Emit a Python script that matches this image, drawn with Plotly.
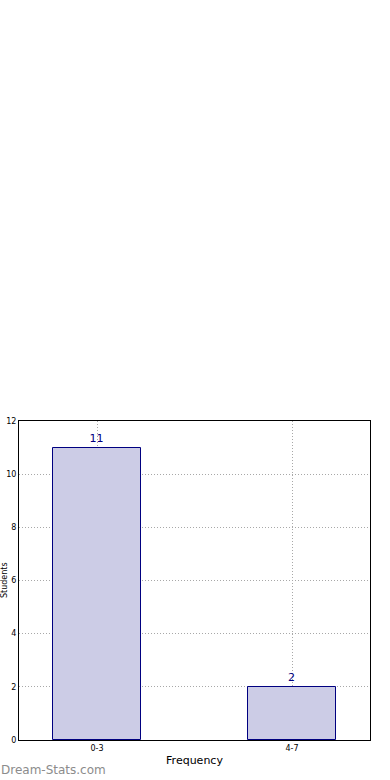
import plotly.graph_objects as go

categories = ["0-3", "4-7"]
values = [11, 2]
y_ticks = [0, 2, 4, 6, 8, 10, 12]

fig = go.Figure()
fig.add_trace(go.Bar(
    x=categories, y=values, width=0.45,
    marker=dict(color="#cccce6", line=dict(color="#000080", width=1)),
    text=[str(v) for v in values], textposition="outside",
    textfont=dict(color="#000080", size=11, family="DejaVu Sans"),
    cliponaxis=False,
))
fig.update_layout(
    width=390, height=780,
    margin=dict(l=19, r=20, t=421, b=40),
    plot_bgcolor="white", paper_bgcolor="white",
    showlegend=False,
    font=dict(family="DejaVu Sans", color="black"),
    bargap=0,
)
fig.update_xaxes(
    range=[-0.4, 1.4], showline=True, linecolor="black", linewidth=1, mirror=True,
    showgrid=True, gridcolor="#a8a8a8", griddash="1px,2px", gridwidth=1,
    tickfont=dict(size=8), ticks="", zeroline=False, automargin=False,
    title=dict(text="Frequency", font=dict(size=11), standoff=4),
)
fig.update_yaxes(
    range=[0, 12], tickvals=y_ticks, showline=True, linecolor="black", linewidth=1, mirror=True,
    showgrid=True, gridcolor="#a8a8a8", griddash="1px,2px", gridwidth=1,
    tickfont=dict(size=8), ticks="", zeroline=False, automargin=False,
)
fig.add_annotation(
    text="Students", textangle=-90, xref="paper", yref="paper",
    x=0, y=0.5, xanchor="right", yanchor="middle", xshift=-9,
    showarrow=False, font=dict(size=8), borderpad=0,
)
fig.add_annotation(
    text="Dream-Stats.com", xref="paper", yref="paper",
    x=0, y=0, xanchor="left", yanchor="top", xshift=-20, yshift=-21,
    showarrow=False, font=dict(size=12, color="#8c8c8c", family="DejaVu Sans"),
)
fig.write_html("out.html")
